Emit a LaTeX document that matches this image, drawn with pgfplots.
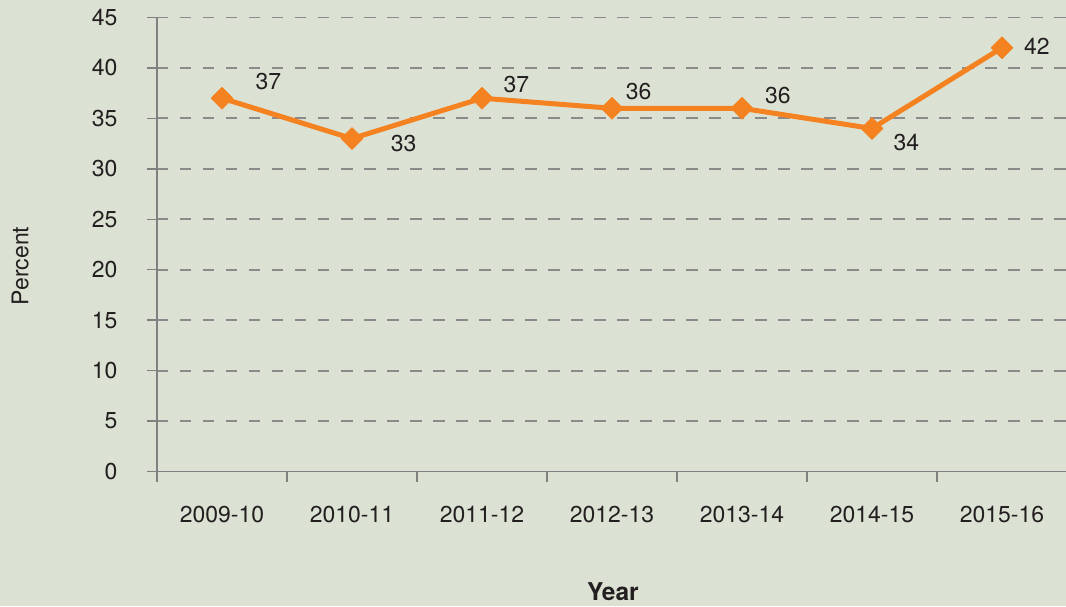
\documentclass[border=0pt]{standalone}
\usepackage{pgfplots}
\pgfplotsset{compat=1.18}
\usepackage{fontspec}
\setmainfont{TeX Gyre Heros}
\definecolor{bgc}{RGB}{220,226,211}
\definecolor{org}{RGB}{245,130,32}
\definecolor{gridc}{RGB}{138,138,138}
\definecolor{axc}{RGB}{128,128,128}
\definecolor{txt}{RGB}{35,31,32}
\begin{document}
\begin{tikzpicture}
\path[use as bounding box, fill=bgc] (-157pt,-134.5pt) rectangle (909pt,471.5pt);
\begin{axis}[
  scale only axis, width=910pt, height=454pt,
  xmin=-0.5, xmax=6.5, ymin=0, ymax=45,
  axis lines=left,
  axis line style={-, draw=axc, line width=1.5pt},
  xtick={-0.5,0.5,...,6.5},
  x tick label as interval,
  xticklabels={2009-10,2010-11,2011-12,2012-13,2013-14,2014-15,2015-16},
  ytick={0,5,...,45},
  tick align=outside,
  major tick length=10pt,
  tick style={draw=axc, line width=1.5pt},
  ymajorgrids,
  grid style={draw=gridc, line width=1.8pt, dash pattern=on 11.5pt off 11.5pt},
  tick label style={font=\fontsize{23}{27}\selectfont, text=txt},
  /pgf/number format/assume math mode=true,
  yticklabel style={xshift=-26pt},
  xticklabel style={yshift=-21pt},
  xlabel={Year},
  ylabel={Percent},
  every axis x label/.style={at={(axis description cs:0.501,-0.2654)}, anchor=center, font=\fontsize{24.5}{28}\selectfont\bfseries, text=txt},
  every axis y label/.style={at={(axis description cs:-0.1505,0.4526)}, anchor=center, rotate=90, font=\fontsize{23}{27}\selectfont, text=txt},
  clip=false,
]
\addplot[org, line width=5pt, line join=round, mark=square*, mark size=7.8pt,
  mark options={rotate=45, fill=org, draw=org, line width=0.5pt, solid}]
  coordinates {(0,37) (1,33) (2,37) (3,36) (4,36) (5,34) (6,42)};
\begin{scope}[every node/.style={anchor=center, text=txt, font=\fontsize{23}{27}\selectfont}]
\node[xshift=46.5pt, yshift=16.3pt] at (axis cs:0,37) {37};
\node[xshift=51.7pt, yshift=-5.3pt] at (axis cs:1,33) {33};
\node[xshift=34.3pt, yshift=13.8pt] at (axis cs:2,37) {37};
\node[xshift=26.7pt, yshift=17.2pt] at (axis cs:3,36) {36};
\node[xshift=35.8pt, yshift=12.9pt] at (axis cs:4,36) {36};
\node[xshift=34.3pt, yshift=-14.5pt] at (axis cs:5,34) {34};
\node[xshift=35pt, yshift=1.4pt] at (axis cs:6,42) {42};
\end{scope}
\end{axis}
\end{tikzpicture}
\end{document}
